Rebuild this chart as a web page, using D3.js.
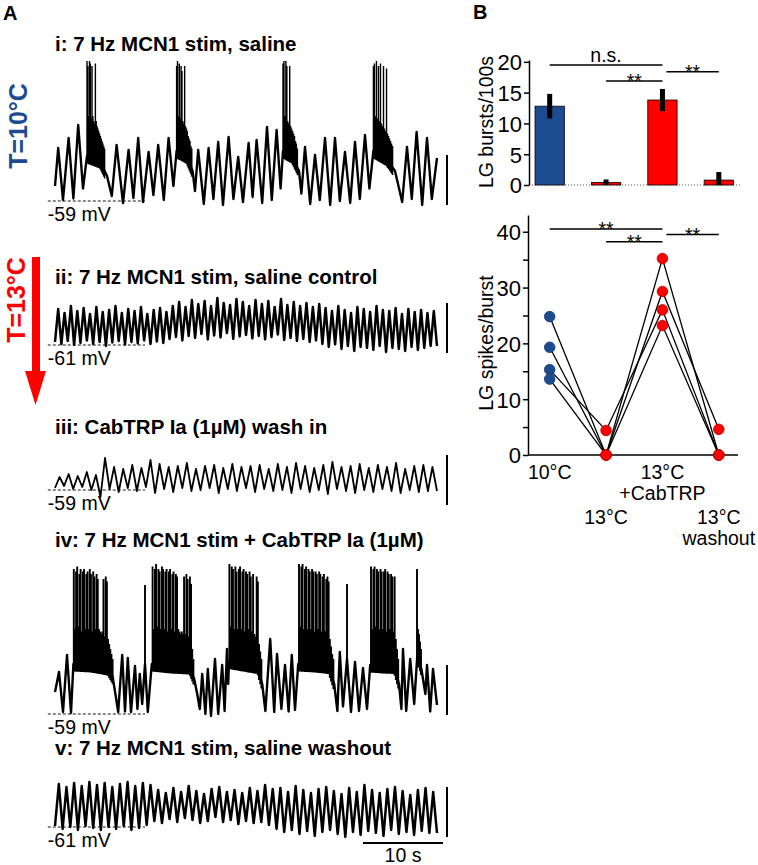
<!DOCTYPE html>
<html>
<head>
<meta charset="utf-8">
<title></title>
<style>
	body { margin: 0; background: #fff; }
	svg { font-family: "Liberation Sans", Arial, sans-serif; }
</style>
</head>
<body>
<svg id="fig" width="758" height="865"></svg>
<script src="https://cdn.jsdelivr.net/npm/d3@7"></script>
<script>
// ---------- panel A data : t in s, dV in mV above the dashed baseline ----------
let traceTitles = [
	"i: 7 Hz MCN1 stim, saline",
	"ii: 7 Hz MCN1 stim, saline control",
	"iii: CabTRP Ia (1µM) wash in",
	"iv: 7 Hz MCN1 stim + CabTRP Ia (1µM)",
	"v: 7 Hz MCN1 stim, saline washout"
]
let baselineLabels = ["-59 mV", "-61 mV", "-59 mV", "-59 mV", "-61 mV"]

// i: slow wave vertices (troughs, peaks, plateaus) + LG bursts
let trace1 = [[0,3],[0.4,10.6],[1.0,0.2],[1.7,12.6],[2.3,0.5],[2.9,15.2],[3.5,2.5],
	[4.0,9],[5.6,8],[6.5,5],[7.1,1.0],
	[7.7,11.2],[8.5,-0.4],[9.2,10.2],[9.8,0.6],[10.4,12.6],[11.0,-0.2],[11.7,9.8],[12.3,1.2],[12.9,11.2],[13.6,0.2],[14.2,12.6],[14.8,3.0],
	[15.2,10],[16.4,9],[17.2,6],[17.5,2],
	[17.9,10.2],[18.6,-0.6],[19.2,10.6],[19.8,0.4],[20.4,11.8],[21.0,-0.8],[21.7,12.8],[22.3,0.4],[22.9,8.8],[23.5,-0.2],[24.2,11.6],[24.7,0.8],
	[25.2,12.2],[25.9,-0.4],[26.5,14.8],[27.1,0.2],[27.7,14.2],[28.2,2.5],
	[28.5,10],[29.6,9],[30.5,6],[30.8,1.5],
	[31.25,10.8],[31.9,-0.6],[32.5,9.2],[33.1,0.2],[33.75,12.6],[34.4,-0.8],[35.0,12.6],[35.6,0],[36.25,9.8],[36.9,-0.4],[37.5,11.8],[38.1,0.4],[38.75,13.2],[39.3,2.5],
	[39.8,10],[41.4,8.5],[42.5,6],[43.4,-0.2],
	[44.0,10.8],[44.6,0.4],[45.2,13.8],[45.9,-0.8],[46.5,12.6],[47.1,0.4],[47.75,8.6]]
let trace1Bursts = [
	{t0: 4.0, t1: 6.2, tops: [28,27,17,28,27.5,16.5,27,17,16,15.5,27.5,16,15,14.5,14,13.5,13,12.5,12,11.5,11,10.5]},
	{t0: 15.2, t1: 17.1, tops: [27,28,17,27.5,16.5,27,26,16,15.5,27,15,14.5,14,13,12.5,12,11,10.5]},
	{t0: 28.5, t1: 30.3, tops: [27.5,28,17,28,27,16,15.5,27,15,14.5,14,13.5,13,12,11.5,10.5]},
	{t0: 39.8, t1: 42.2, tops: [27,27.5,17,28,16.5,27,16,27.5,15.5,15,27,14.5,14,26.5,13.5,13,12.5,12,11.5,11]}
]

// ii: saline control at 13°C, one peak/trough per cycle
let trace2Peaks = [7.2,6.4,7.8,6.8,7.4,6.2,7.6,6.6,7.0,7.8,6.4,7.2,6.8,7.6,6.2,7.0,7.4,6.6,
	7.8,8.6,7.6,9.0,8.2,8.8,7.8,9.4,8.4,8.0,9.2,8.6,7.8,9.0,8.2,8.8,7.6,9.2,8.0,8.6,7.8,8.4,7.6,8.2,
	7.4,6.8,7.8,7.0,6.4,7.6,7.2,6.6,7.8,7.0,6.8,7.4,6.2,7.2,6.6,7.0,6.4,6.8]
let trace2Troughs = [0.6,0.2,0.8,0.0,0.4,0.9,0.2,0.6,-0.2,0.5,0.8,0.1,0.6,0.3,0.9,0.2,0.7,0.4,
	1.2,1.6,0.9,1.8,1.4,2.2,1.1,1.9,1.5,2.4,1.2,1.7,2.0,1.3,1.8,1.1,1.6,2.1,1.0,1.4,0.8,1.2,0.6,0.9,
	0.2,-0.4,0.1,-0.8,-0.2,-1.2,-0.4,-0.6,-1.0,-0.2,-1.4,-0.6,-0.8,-1.2,-0.4,-1.0,-0.6,-0.2]

// iii: CabTRP wash in, no stimulation
let trace3Peaks = [2.6,3.2,2.8,3.6,3.0,6.4,4.6,4.2,5.0,4.4,6.0,5.2,4.6,4.8,5.4,4.2,4.8,5.0,4.4,5.2,4.6,
	4.8,5.0,4.2,5.2,4.6,5.4,4.8,4.4,5.0,5.6,4.6,4.8,5.2,4.4,5.0,4.6,5.4,4.2,4.8,5.0,4.6]
let trace3Troughs = [0.4,0.8,0.2,0.6,0.0,-1.4,0.2,-0.4,0.4,-0.2,0.6,-0.6,0.2,-0.4,0.4,-0.2,0.0,0.4,-0.6,0.2,-0.2,
	0.4,-0.4,0.2,-0.2,0.0,-0.6,0.2,-0.4,0.0,-0.8,0.2,-0.2,-0.6,0.0,-0.4,0.2,-0.2,-0.6,0.0,-0.4,-0.2]

// iv: MCN1 stim + CabTRP
let trace4 = [[0,4.4],[0.5,8.4],[1.0,0.4],[1.5,11.8],[2.0,0.2],
	[2.3,10],[4.5,9.8],[6.6,9.2],[7.2,7.5],[7.6,3.5],
	[7.9,0.4],[8.4,11.8],[8.75,0.5],[9.1,11.2],[9.5,0.4],[10.0,9.6],[10.3,1.0],[10.6,8.0],[10.9,2.0],[11.25,10.0],[11.6,0.4],
	[12.1,10],[14.5,9.6],[16.8,9.4],[17.4,7],[17.8,3.8],
	[18.1,1.0],[18.4,8],[18.8,0],[19.1,9],[19.5,-0.4],[20.0,11],[20.4,0],[20.9,9.8],[21.2,0.6],[21.5,13],[21.65,6],
	[21.75,10.5],[23.5,10],[25.3,9.5],[25.9,6],
	[26.3,0.6],[26.9,15],[27.4,0.4],[27.75,12],[28.3,1.0],[28.75,9.8],[29.2,0.5],[29.6,11.8],[30.0,0.8],
	[30.4,10],[32.5,9.8],[34.2,9.5],[34.9,6],
	[35.3,0.6],[35.6,12.4],[36.0,1.5],[36.5,11],[37.0,0.4],[37.5,10.4],[38.0,0.6],[38.5,9.2],[39.0,1.0],
	[39.4,9.8],[41.0,9.6],[42.4,9.5],[43.0,6],
	[43.3,1.0],[43.5,13],[43.9,0.6],[44.4,11],[44.9,2],[45.3,12],[45.8,9],[46.3,4],[46.5,9.8],[46.9,0.5],[47.25,9],[47.75,1.8]]
let trace4Bursts = [
	{t0: 2.35, t1: 7.2, tops: [29,17,28.5,29.5,17.5,28,29,16.5,28.5,29,17,28,28.5,17,29,28,16.5,28.5,27.5,17,28,27,17,16.5,16,16.5,27,15.5,27.5,26.5,15,14,13,12,11]},
	{t0: 11.25, t1: 11.25, tops: [25.8]},
	{t0: 12.2, t1: 17.3, tops: [29.5,17,29,30,17.5,29,28.5,17,29.5,29,17,28.5,29,16.5,28.5,29,17,28,28.5,16.5,28,27.5,17,16.5,16,16.5,16,27.5,16,28,27,15.5,27.5,26,13,11]},
	{t0: 21.8, t1: 25.8, tops: [30,17.5,29.5,29,17,29.5,28.5,17,29,29.5,17,28.5,29,16.5,28.5,28,17,28.5,27.5,16.5,28,16,15.5,27.5,26.5,14,12.5,11]},
	{t0: 30.5, t1: 34.8, tops: [30,17.5,29.5,30,17,29,29.5,17,29,28.5,17,29,28.5,16.5,28.5,28,17,28.5,28,16.5,27.5,28,16.5,27,27.5,26.5,15,13.5,12,11]},
	{t0: 36.5, t1: 36.5, tops: [26]},
	{t0: 39.5, t1: 42.9, tops: [29.5,17,29,29.5,17.5,29,28.5,17,29,28.5,17,28.5,29,16.5,28.5,28,17,28,27.5,16.5,27.5,15,13,11]},
	{t0: 45.25, t1: 45.75, tops: [29,17,16,14.5,13]}
]

// v: saline washout
let trace5Peaks = [8.6,8.0,8.8,8.2,9.0,8.4,8.8,8.0,8.6,9.0,8.2,8.8,8.4,
	7.4,6.8,7.8,7.0,8.2,7.2,6.6,7.6,8.0,7.0,7.4,6.8,7.8,7.2,8.4,7.6,
	7.8,7.0,8.2,7.4,6.8,7.6,8.0,7.2,6.6,7.8,7.0,8.4,7.4,6.8,7.6,8.0,7.2,6.4,7.4,7.8,7.0]
let trace5Troughs = [0.2,-0.4,0.0,-0.6,0.2,-0.2,-0.6,0.0,-0.4,0.2,-0.6,-0.2,0.4,
	1.2,0.8,1.6,1.0,1.8,1.4,0.8,1.2,2.0,1.0,1.4,0.6,1.2,0.8,1.0,0.4,
	-0.4,-1.0,-0.6,-1.4,-0.8,-1.8,-1.0,-0.6,-1.4,-2.0,-1.0,-1.6,-0.8,-1.2,-1.8,-0.6,-1.4,-1.0,-1.6,-0.8,-1.2]

// ---------- panel B data ----------
let conditions = ["10°C", "13°C", "13°C +CabTRP", "13°C washout"]
let conditionLines = [["10°C"], ["13°C"], ["13°C", "+CabTRP"], ["13°C", "washout"]]
let burstRate = [12.8, 0.4, 13.8, 0.8]          // LG bursts/100s, mean
let burstRateErr = [2.0, 0.5, 1.8, 1.3]         // sd
let spikesPerBurst = [                          // one row per preparation
	[24.8, 0, 35.2, 0],
	[19.3, 0, 29.3, 4.6],
	[15.3, 4.4, 26.0, 0],
	[13.6, 0, 23.2, 0]
]
let sigBars = [[0, 2, 19.5, "n.s."], [1, 2, 16.9, "**"], [2, 3, 18.4, "**"]]
let sigSpikes = [[0, 2, 40.5, "**"], [1, 2, 38.2, "**"], [2, 3, 39.5, "**"]]

// ---------- layout ----------
let blue = "#1d4b8f", red = "#ff0000"
let svg = d3.select("#fig")
let tx = d3.scaleLinear().domain([0, 47.75]).range([55, 437])
let traceBase = [201, 345, 490, 714, 827]
let titleY = [51, 284, 434, 547, 755]
let barLow = [-0.8, -1.6, -3, -0.2, -2]
let lineW = [2.4, 2.5, 1.8, 2.4, 2.5]
let spikeW = [1.4, 0, 0, 1.9, 0]

function waveVerts(peaks, troughs) {
	let n = peaks.length, P = 47.75 / n, v = []
	for (let k = 0; k < n; k++) {
		v.push([k * P, troughs[k]])
		v.push([(k + 0.5) * P, peaks[k]])
	}
	v.push([47.75, troughs[n - 1]])
	return v
}

function valueAt(verts, t) {
	let i = d3.bisector(d => d[0]).right(verts, t)
	if (i <= 0) return verts[0][1]
	if (i >= verts.length) return verts[verts.length - 1][1]
	let a = verts[i - 1], b = verts[i]
	return a[1] + (b[1] - a[1]) * (t - a[0]) / (b[0] - a[0])
}

function drawTrace(i, verts, bursts) {
	let y = d3.scaleLinear().domain([0, 10]).range([traceBase[i], traceBase[i] - 50])
	let g = svg.append("g")

	g.append("line")
		.attr("x1", tx(-0.9)).attr("x2", tx(11.25))
		.attr("y1", y(0)).attr("y2", y(0))
		.attr("stroke", "#666").attr("stroke-width", 1.3).attr("stroke-dasharray", "3,2")

	g.append("path")
		.attr("d", d3.line().x(d => tx(d[0])).y(d => y(d[1]))(verts))
		.attr("fill", "none").attr("stroke", "#000")
		.attr("stroke-width", lineW[i]).attr("stroke-linejoin", "round")

	// spikes riding on the plateau (they dip a little under it after each spike)
	let sp = ""
	bursts.forEach(b => {
		let n = b.tops.length
		b.tops.forEach((top, j) => {
			let t = n > 1 ? b.t0 + (b.t1 - b.t0) * j / (n - 1) : b.t0
			sp += "M" + tx(t) + "," + y(valueAt(verts, t) - 1.5) + "V" + y(top)
		})
	})
	if (sp) g.append("path").attr("d", sp).attr("stroke", "#000").attr("stroke-width", spikeW[i]).attr("fill", "none")

	// 10 mV bar
	g.append("line")
		.attr("x1", tx(49)).attr("x2", tx(49))
		.attr("y1", y(barLow[i])).attr("y2", y(barLow[i] + 10))
		.attr("stroke", "#000").attr("stroke-width", 2)

	g.append("text").attr("x", 55).attr("y", titleY[i])
		.attr("font-size", 20.5).attr("font-weight", "bold").text(traceTitles[i])
	g.append("text").attr("x", tx(-0.9)).attr("y", y(0) + 20)
		.attr("font-size", 19.5).text(baselineLabels[i])
}

drawTrace(0, trace1, trace1Bursts)
drawTrace(1, waveVerts(trace2Peaks, trace2Troughs), [])
drawTrace(2, waveVerts(trace3Peaks, trace3Troughs), [])
drawTrace(3, trace4, trace4Bursts)
drawTrace(4, waveVerts(trace5Peaks, trace5Troughs), [])

// 10 s bar
svg.append("line").attr("x1", tx(38.5)).attr("x2", tx(48.5)).attr("y1", 843).attr("y2", 843)
	.attr("stroke", "#000").attr("stroke-width", 2)
svg.append("text").attr("x", tx(43.5)).attr("y", 862).attr("text-anchor", "middle")
	.attr("font-size", 19.5).text("10 s")

// temperature labels
svg.append("text").attr("transform", "translate(27,126) rotate(-90)").attr("text-anchor", "middle")
	.attr("font-size", 25).attr("font-weight", "bold").attr("fill", blue).text("T=10°C")
svg.append("text").attr("transform", "translate(25,300) rotate(-90)").attr("text-anchor", "middle")
	.attr("font-size", 25).attr("font-weight", "bold").attr("fill", red).text("T=13°C")
svg.append("rect").attr("x", 32).attr("y", 257).attr("width", 8).attr("height", 115).attr("fill", red)
svg.append("path").attr("d", "M25,371L46,371L35.5,405Z").attr("fill", red)

// panel letters
svg.append("text").attr("x", 3).attr("y", 20).attr("font-size", 20).attr("font-weight", "bold").text("A")
svg.append("text").attr("x", 473).attr("y", 19).attr("font-size", 20).attr("font-weight", "bold").text("B")

// ---------- panel B top: bursts per 100 s ----------
let xb = d3.scaleBand().domain(conditions).range([521.5, 747]).paddingInner(0.48).paddingOuter(0.24)
let yb = d3.scaleLinear().domain([0, 20.3]).range([185, 60])
let cx = c => xb(c) + xb.bandwidth() / 2

svg.append("line").attr("x1", 529).attr("x2", 742).attr("y1", yb(0)).attr("y2", yb(0))
	.attr("stroke", "#555").attr("stroke-dasharray", "1,2")

svg.selectAll(".bar").data(conditions).enter().append("rect")
	.attr("x", d => xb(d)).attr("width", xb.bandwidth())
	.attr("y", (d, i) => yb(burstRate[i])).attr("height", (d, i) => yb(0) - yb(burstRate[i]))
	.attr("fill", (d, i) => i == 0 ? blue : red).attr("stroke", "#000").attr("stroke-width", 0.8)

svg.selectAll(".err").data(conditions).enter().append("rect")
	.attr("x", d => cx(d) - 2.5).attr("width", 5)
	.attr("y", (d, i) => yb(burstRate[i] + burstRateErr[i]))
	.attr("height", (d, i) => yb(Math.max(0, burstRate[i] - burstRateErr[i])) - yb(burstRate[i] + burstRateErr[i]))
	.attr("fill", "#000")

let axTop = svg.append("g").attr("transform", "translate(529,0)")
	.call(d3.axisLeft(yb).tickValues([0, 5, 10, 15, 20]).tickSize(5).tickSizeOuter(0).tickPadding(2))
axTop.selectAll("text").attr("font-size", 22).attr("font-family", "Liberation Sans, Arial, sans-serif").attr("dy", "0.36em")
axTop.selectAll("path, line").attr("stroke-width", 1.5)

svg.append("text").attr("transform", "translate(493,122) rotate(-90)").attr("text-anchor", "middle")
	.attr("font-size", 19.5).text("LG bursts/100s")

function drawSig(list, y) {
	list.forEach(s => {
		let x1 = cx(conditions[s[0]]) + (s[0] == 2 ? 4 : 0), x2 = cx(conditions[s[1]])
		svg.append("line").attr("x1", x1).attr("x2", x2).attr("y1", y(s[2])).attr("y2", y(s[2]))
			.attr("stroke", "#000").attr("stroke-width", 1.4)
		svg.append("text").attr("x", (x1 + x2) / 2).attr("y", y(s[2]) + (s[3] == "**" ? 7 : -3))
			.attr("text-anchor", "middle").attr("font-size", 19.5).text(s[3])
	})
}
drawSig(sigBars, yb)

// ---------- panel B bottom: spikes per burst ----------
let ys = d3.scaleLinear().domain([0, 43]).range([455, 215])

svg.append("line").attr("x1", 528).attr("x2", 738).attr("y1", ys(0)).attr("y2", ys(0))
	.attr("stroke", "#000").attr("stroke-width", 1.5)
let axBot = svg.append("g").attr("transform", "translate(528,0)")
	.call(d3.axisLeft(ys).tickValues(d3.range(0, 41, 5)).tickFormat(d => d % 10 == 0 ? d : "")
		.tickSize(5).tickSizeOuter(0).tickPadding(2))
axBot.selectAll("text").attr("font-size", 22).attr("font-family", "Liberation Sans, Arial, sans-serif").attr("dy", "0.36em")
axBot.selectAll("path, line").attr("stroke-width", 1.5)

svg.append("text").attr("transform", "translate(493,343) rotate(-90)").attr("text-anchor", "middle")
	.attr("font-size", 19.5).text("LG spikes/burst")

let prepLine = d3.line().x((d, i) => cx(conditions[i])).y(d => ys(d))
svg.selectAll(".prep").data(spikesPerBurst).enter().append("path")
	.attr("d", prepLine).attr("fill", "none").attr("stroke", "#000").attr("stroke-width", 1.3)

spikesPerBurst.forEach(row => {
	row.forEach((v, i) => {
		svg.append("circle").attr("cx", cx(conditions[i])).attr("cy", ys(v)).attr("r", 5.3)
			.attr("fill", i == 0 ? blue : red).attr("stroke", i == 0 ? "#123a70" : "#b00000").attr("stroke-width", 0.8)
	})
})

drawSig(sigSpikes, ys)

conditionLines.forEach((lines, i) => {
	let y0 = i % 2 == 0 ? 479 : 524
	lines.forEach((s, k) => {
		svg.append("text").attr("x", cx(conditions[i])).attr("y", y0 + k * 21)
			.attr("text-anchor", "middle").attr("font-size", 19.5).text(s)
	})
})
</script>
</body>
</html>
